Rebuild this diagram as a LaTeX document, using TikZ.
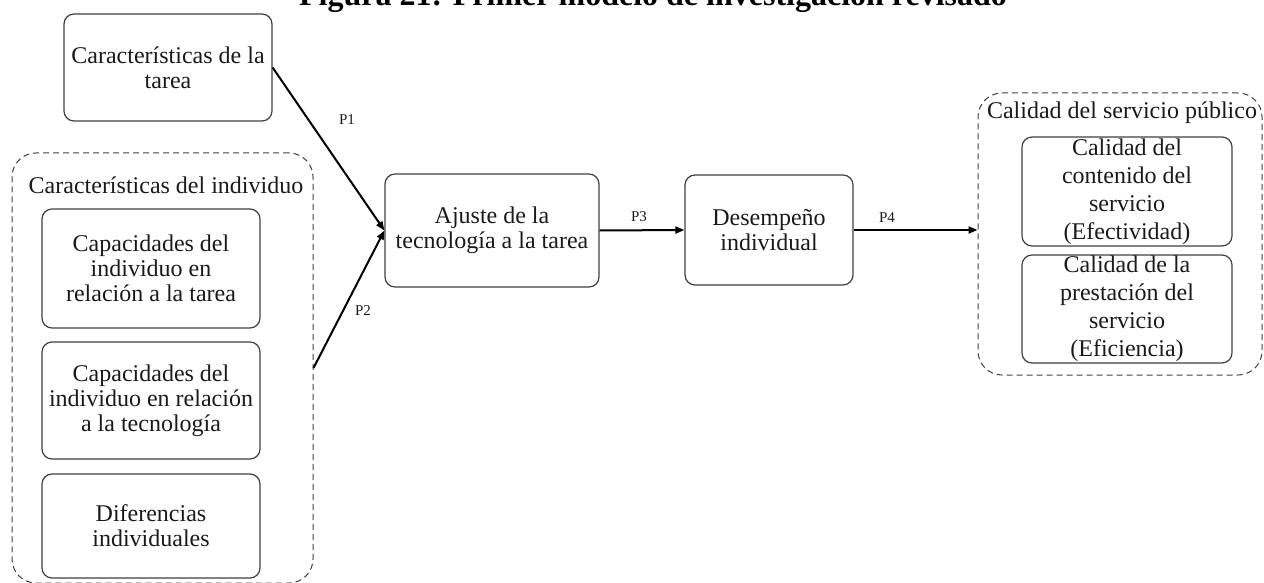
\documentclass[tikz,border=0pt]{standalone}
\usepackage{fontspec}
\setmainfont{Liberation Serif}
\usetikzlibrary{arrows.meta}
\definecolor{boxgray}{HTML}{404040}
\definecolor{txt}{HTML}{1A1A1A}
\begin{document}
\begin{tikzpicture}[x=0.5pt,y=-0.5pt,
  box/.style={draw=boxgray, line width=0.6pt, rounded corners=5pt, align=center, inner sep=0pt, font=\fontsize{12}{12.5}\selectfont, text=txt},
  sbox/.style={box, font=\fontsize{12}{14}\selectfont},
  grp/.style={draw=boxgray, line width=0.5pt, dash pattern=on 3pt off 2pt, rounded corners=12pt, inner sep=0pt},
  glab/.style={font=\fontsize{12}{12.5}\selectfont, text=txt, inner sep=0pt},
  arr/.style={-{Triangle[length=4.5pt,width=3.5pt]}, line width=1pt},
  plab/.style={font=\fontsize{7.5}{8}\selectfont, text=txt, inner sep=0pt}]
\useasboundingbox (0,0) rectangle (1264,583);
\clip (0,0) rectangle (1264,583);
% title (cut off at the top)
\node[anchor=base, font=\fontsize{16}{18}\selectfont\bfseries, inner sep=0pt] (title) at (653,6) {Figura 21: Primer modelo de investigación revisado};
% left side
\node[box, minimum width=104pt, minimum height=53.5pt] (t) at (168,67.5) {Características de la\\tarea};
\node[grp, minimum width=150.5pt, minimum height=215pt] (ci) at (162.5,368) {};
\node[glab] (cil) at (166,185) {Características del individuo};
\node[box, minimum width=109pt, minimum height=59.5pt] (c1) at (151,268.5) {Capacidades del\\individuo en\\relación a la tarea};
\node[box, minimum width=109pt, minimum height=58.5pt] (c2) at (151,400.5) {Capacidades del\\individuo en relación\\a la tecnología};
\node[box, minimum width=109pt, minimum height=52pt] (c3) at (151,526) {Diferencias\\individuales};
% middle
\node[box, minimum width=107pt, minimum height=56.5pt] (aj) at (492,230.5) {Ajuste de la\\tecnología a la tarea};
\node[box, minimum width=84pt, minimum height=55pt] (de) at (769,230) {Desempeño\\individual};
% right side
\node[grp, minimum width=142pt, minimum height=141pt] (cs) at (1120,234) {};
\node[glab] (csl) at (1122,113) {Calidad del servicio público};
\node[sbox, minimum width=105pt, minimum height=54.5pt] (s1) at (1127,191.5) {Calidad del\\contenido del\\servicio\\(Efectividad)};
\node[sbox, minimum width=105pt, minimum height=54pt] (s2) at (1127,309) {Calidad de la\\prestación del\\servicio\\(Eficiencia)};
% connectors
\draw[arr] (t.east) -- (aj.west);
\draw[arr] (ci.east) -- (aj.west);
\draw[arr] (aj.east) -- (de.west);
\draw[arr] (de.east) -- (de.east -| cs.west);
% labels
\node[plab] (p1) at (347,120) {P1};
\node[plab] (p2) at (363,311) {P2};
\node[plab] (p3) at (639,217) {P3};
\node[plab] (p4) at (887,218) {P4};
\end{tikzpicture}
\end{document}
